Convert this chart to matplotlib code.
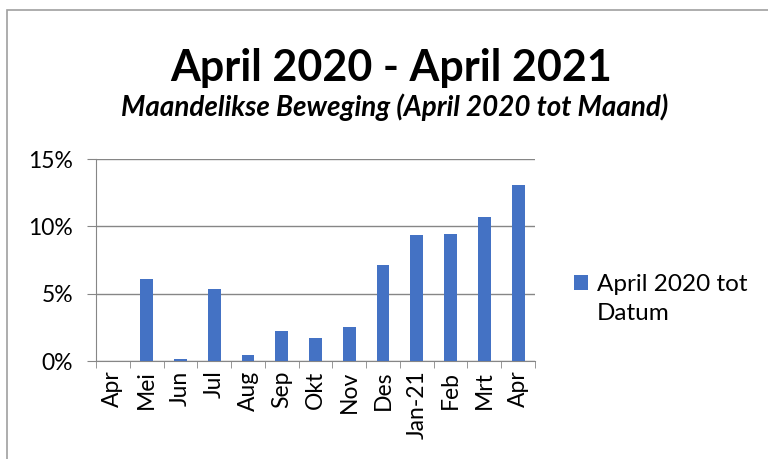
import numpy as np
from matplotlib import pyplot as plt
from matplotlib.patches import Rectangle
from matplotlib.container import BarContainer
from matplotlib.legend_handler import HandlerPatch, update_from_first_child
from matplotlib.ticker import FuncFormatter

# Maandelikse beweging, in persent
maande = ["Apr", "Mei", "Jun", "Jul", "Aug", "Sep", "Okt", "Nov",
          "Des", "Jan-21", "Feb", "Mrt", "Apr"]
beweging = [0.0, 6.1, 0.15, 5.38, 0.45, 2.22, 1.73, 2.49,
            7.1, 9.38, 9.43, 10.69, 13.08]

bar_colour = "#4472C4"
grid_colour = "#868686"
font = ["Lato", "DejaVu Sans"]

fig = plt.figure(figsize=(7.68, 4.59), dpi=100)
W, H = 768, 459
ax = fig.add_axes([96 / W, 1 - 361 / H, (535 - 96) / W, (361 - 159) / H])

x = np.arange(len(maande))
ax.bar(x, beweging, width=0.38, color=bar_colour, zorder=3,
       label="April 2020 tot\nDatum")

ax.set_xlim(-0.5, len(maande) - 0.5)
ax.set_ylim(0, 15)
ax.set_yticks([0, 5, 10, 15])
ax.yaxis.set_major_formatter(FuncFormatter(lambda v, p: "%d%%" % v))
ax.grid(axis="y", color=grid_colour, linewidth=1, zorder=0)

ax.set_xticks(x)
ax.set_xticklabels(maande, rotation=90, fontsize=16.5, family=font)
ax.set_xticks(np.arange(-0.5, len(maande), 1), minor=True)
ax.tick_params(axis="x", which="major", length=0, pad=7)
ax.tick_params(axis="x", which="minor", length=5, color=grid_colour)
ax.tick_params(axis="y", length=6.5, color=grid_colour, labelsize=16.5, pad=10)
for lbl in ax.get_yticklabels():
    lbl.set_family(font)

for s in ["top", "right"]:
    ax.spines[s].set_visible(False)
ax.spines["left"].set_color(grid_colour)
ax.spines["bottom"].set_color(grid_colour)

fig.text(391 / W, 1 - 81 / H, "April 2020 - April 2021", ha="center",
         va="baseline", fontsize=31, fontweight="bold", family=font)
fig.text(395 / W, 1 - 116 / H, "Maandelikse Beweging (April 2020 tot Maand)",
         ha="center", va="baseline", fontsize=20, fontweight="bold",
         style="italic", family=font)


# legend square sits next to the first line of the label
def square_up(legend, orig_handle, xdescent, ydescent, width, height, fontsize):
    return Rectangle((-xdescent, -ydescent + 12), width, height)


leg = ax.legend(loc="center left", bbox_to_anchor=(552 / W, 1 - 299 / H),
                bbox_transform=fig.transFigure, frameon=False,
                prop={"family": font, "size": 17.5}, handlelength=0.6,
                handleheight=0.6, handletextpad=0.35,
                handler_map={BarContainer: HandlerPatch(
                    patch_func=square_up, update_func=update_from_first_child)})
for t in leg.get_texts():
    t.set_linespacing(1.45)

# chart border
fig.patches.append(Rectangle((7 / W, -0.1), 1.2, 1 - 10 / H + 0.1,
                             transform=fig.transFigure, fill=False,
                             edgecolor="#A0A0A0", linewidth=1.2))

fig.savefig("out.png", dpi=100)
